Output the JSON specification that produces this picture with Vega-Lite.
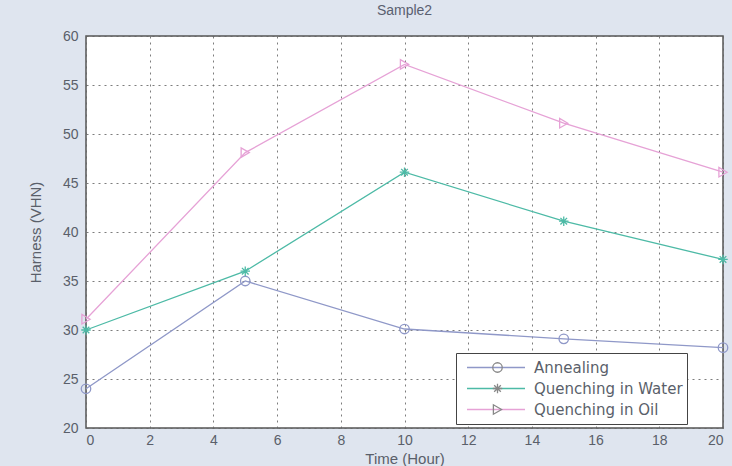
{
  "$schema": "https://vega.github.io/schema/vega-lite/v6.json",
  "width": 637,
  "height": 392,
  "autosize": {"type": "none"},
  "padding": {"left": 86, "top": 36, "right": 9, "bottom": 38},
  "background": "#dfe5ef",
  "title": {"text": "Sample2", "fontSize": 14, "font": "Liberation Sans", "fontWeight": "normal", "color": "#5a6070", "offset": 11},
  "config": {
    "view": {"fill": "white", "stroke": "#555555", "strokeWidth": 1.5},
    "axis": {"labelFont": "Liberation Sans", "labelFontSize": 14, "labelColor": "#5a5f6a", "titleFont": "Liberation Sans", "titleFontSize": 15, "titleFontWeight": "normal", "titleColor": "#5a5f6a", "gridColor": "#666666", "gridDash": [2, 4], "gridWidth": 1, "gridOpacity": 0.85, "domain": false, "ticks": false}
  },
  "data": {
    "values": [
      {"time": 0, "hardness": 24, "series": "Annealing", "marker": "o"},
      {"time": 5, "hardness": 35, "series": "Annealing", "marker": "o"},
      {"time": 10, "hardness": 30.1, "series": "Annealing", "marker": "o"},
      {"time": 15, "hardness": 29.1, "series": "Annealing", "marker": "o"},
      {"time": 20, "hardness": 28.2, "series": "Annealing", "marker": "o"},
      {"time": 0, "hardness": 30, "series": "Quenching in Water", "marker": "*"},
      {"time": 5, "hardness": 36, "series": "Quenching in Water", "marker": "*"},
      {"time": 10, "hardness": 46.1, "series": "Quenching in Water", "marker": "*"},
      {"time": 15, "hardness": 41.1, "series": "Quenching in Water", "marker": "*"},
      {"time": 20, "hardness": 37.2, "series": "Quenching in Water", "marker": "*"},
      {"time": 0, "hardness": 31.1, "series": "Quenching in Oil", "marker": ">"},
      {"time": 5, "hardness": 48.1, "series": "Quenching in Oil", "marker": ">"},
      {"time": 10, "hardness": 57.1, "series": "Quenching in Oil", "marker": ">"},
      {"time": 15, "hardness": 51.1, "series": "Quenching in Oil", "marker": ">"},
      {"time": 20, "hardness": 46.1, "series": "Quenching in Oil", "marker": ">"}
    ]
  },
  "encoding": {
    "x": {"field": "time", "type": "quantitative", "scale": {"domain": [0, 20], "nice": false},
      "axis": {"values": [0, 2, 4, 6, 8, 10, 12, 14, 16, 18, 20], "title": "Time (Hour)", "labelPadding": 5, "titlePadding": 4}},
    "y": {"field": "hardness", "type": "quantitative", "scale": {"domain": [20, 60], "nice": false, "zero": false},
      "axis": {"values": [20, 25, 30, 35, 40, 45, 50, 55, 60], "title": "Harness (VHN)", "labelPadding": 8, "titlePadding": 19}},
    "color": {"field": "series", "type": "nominal",
      "scale": {"domain": ["Annealing", "Quenching in Water", "Quenching in Oil"], "range": ["#8f98c8", "#4dbaa6", "#e6a2d6"]},
      "legend": {"title": null, "orient": "none", "legendX": 370, "legendY": 317, "padding": 4, "symbolOffset": 6, "symbolType": "stroke", "symbolSize": 3364, "symbolStrokeWidth": 1.3, "labelOffset": 8, "clipHeight": 21, "rowPadding": 0, "labelFont": "DejaVu Sans", "labelFontSize": 15, "labelColor": "#5a5f6a", "strokeColor": "#444444", "fillColor": "white"}}
  },
  "layer": [
    {"mark": {"type": "line", "strokeWidth": 1.3}},
    {"mark": {"type": "point", "filled": false, "size": 90, "strokeWidth": 1.3, "opacity": 1},
      "encoding": {
        "shape": {"field": "marker", "type": "nominal",
          "scale": {"domain": ["o", "*", ">"], "range": ["circle", "M-1,0L1,0M0,-1L0,1M-0.7,-0.7L0.7,0.7M-0.7,0.7L0.7,-0.7", "triangle-right"]},
          "legend": {"title": null, "orient": "none", "legendX": 370, "legendY": 317, "padding": 4, "symbolOffset": 30, "symbolSize": 90, "symbolStrokeWidth": 1.3, "symbolFillColor": "transparent", "labelOffset": 8, "clipHeight": 21, "rowPadding": 0, "labelFontSize": 15, "labelOpacity": 0,
            "encode": {"symbols": {"update": {"stroke": {"signal": "datum.value === 'o' ? '#8f98c8' : datum.value === '*' ? '#4dbaa6' : '#e6a2d6'"}, "fill": {"value": "transparent"}}}}}}
      }}
  ]
}
